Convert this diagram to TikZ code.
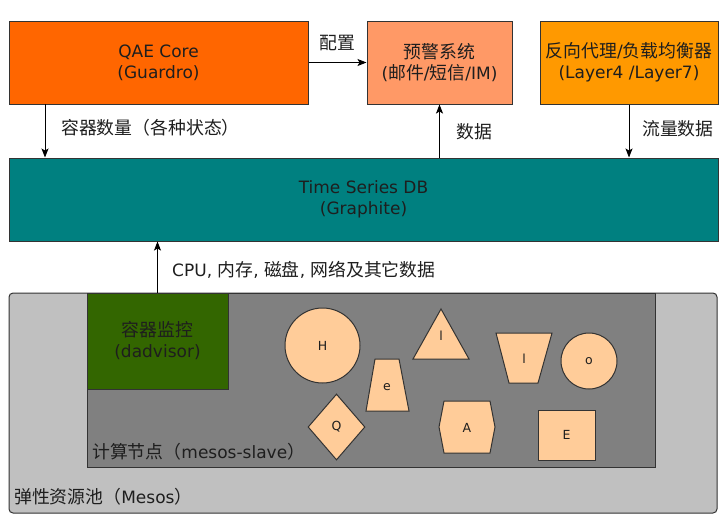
\documentclass[tikz,border=0pt]{standalone}
\usepackage{fontspec}
\setmainfont{DejaVu Sans}
\newfontfamily\zhfont[Scale=1.05]{Noto Sans CJK SC}
\usetikzlibrary{arrows.meta,shapes.geometric}
\definecolor{ink}{HTML}{1E1E1E}
\definecolor{edge}{HTML}{333333}
\definecolor{core}{HTML}{FF6600}
\definecolor{alert}{HTML}{FF9966}
\definecolor{proxy}{HTML}{FF9900}
\definecolor{tsdb}{HTML}{008080}
\definecolor{pool}{HTML}{C0C0C0}
\definecolor{slave}{HTML}{808080}
\definecolor{monitor}{HTML}{336600}
\definecolor{task}{HTML}{FFCC99}
\newcommand{\zh}[1]{{\zhfont #1}}

\begin{document}
\begin{tikzpicture}[x=1pt,y=-1pt,
  box/.style={draw=edge,line width=1pt,align=center,text=ink,inner sep=0pt,
              font=\fontsize{17}{21}\selectfont},
  lbl/.style={text=ink,inner sep=0pt,font=\fontsize{17}{21}\selectfont},
  flow/.style={draw=black,line width=0.9pt,-{Stealth[length=9pt,width=7pt,inset=2pt]}},
  task/.style={draw=edge,line width=1pt,fill=task,text=ink,inner sep=0pt,
               font=\fontsize{12.5}{14}\selectfont},
  tag/.style={text=ink,inner sep=0pt,font=\fontsize{12.5}{14}\selectfont},
]
  \useasboundingbox (0,0) rectangle (727,520);

  % top row
  \node[box,fill=core,minimum width=299,minimum height=83] (core) at (158.5,62.5)
    {QAE Core\\(Guardro)};
  \node[box,fill=alert,minimum width=145,minimum height=83] (alert) at (439.5,62.5)
    {\zh{预警系统}\\(\zh{邮件}/\zh{短信}/IM)};
  \node[box,fill=proxy,minimum width=178,minimum height=83] (proxy) at (629,62.5)
    {\zh{反向代理}/\zh{负载均衡器}\\(Layer4 /Layer7)};

  % time series db
  \node[box,fill=tsdb,minimum width=709,minimum height=83] (tsdb) at (363.5,199.5)
    {Time Series DB\\(Graphite)};

  % resource pool
  \node[box,fill=pool,rounded corners=4pt,minimum width=708,minimum height=220] (mesos) at (363,403) {};
  \node[box,fill=slave,minimum width=568,minimum height=174] (slave) at (371,380) {};
  \node[box,fill=monitor,minimum width=141,minimum height=96] (dadvisor) at (157.5,341)
    {\zh{容器监控}\\(dadvisor)};
  \node[lbl,anchor=west] (slavelbl) at (92,452) {\zh{计算节点（}mesos-slave\zh{）}};
  \node[lbl,anchor=west] (mesoslbl) at (14,497) {\zh{弹性资源池（}Mesos\zh{）}};

  % containers
  \node[task,circle,minimum size=75] (h) at (322.5,345.5) {H};
  \filldraw[task] (366,411) -- (409,411) -- (399,359) -- (375,359) -- cycle;
  \node[tag] (e) at (387,387) {e};
  \filldraw[task] (413,359) -- (469,359) -- (441,309) -- cycle;
  \node[tag] (l1) at (441,336) {l};
  \filldraw[task] (496,333) -- (552,333) -- (538,383) -- (509,383) -- cycle;
  \node[tag] (l2) at (524,359) {l};
  \node[task,circle,minimum size=56] (o) at (589,361) {o};
  \node[task,diamond,minimum width=57,minimum height=66] (q) at (336.5,427) {Q};
  \filldraw[task] (444,401) -- (490,401) -- (495,427) -- (490,453) -- (444,453) -- (439,427) -- cycle;
  \node[tag] (a) at (467,428) {A};
  \node[task,minimum width=57,minimum height=50] (ee) at (566.5,435) {E};

  % connectors
  \coordinate (coredown) at (45,104);
  \draw[flow] (core.east) -- (alert.west);
  \node[lbl] (cfg) at (337,43) {\zh{配置}};
  \draw[flow] (coredown) -- (coredown |- tsdb.north);
  \node[lbl,anchor=west] (count) at (61,128) {\zh{容器数量（各种状态）}};
  \draw[flow] (tsdb.north -| alert.south) -- (alert.south);
  \node[lbl,anchor=west] (data) at (456,132) {\zh{数据}};
  \draw[flow] (proxy.south) -- (proxy.south |- tsdb.north);
  \node[lbl,anchor=west] (traffic) at (642,129) {\zh{流量数据}};
  \draw[flow] (dadvisor.north) -- (dadvisor.north |- tsdb.south);
  \node[lbl,anchor=west] (metrics) at (172,270) {CPU, \zh{内存}, \zh{磁盘}, \zh{网络及其它数据}};
\end{tikzpicture}
\end{document}
